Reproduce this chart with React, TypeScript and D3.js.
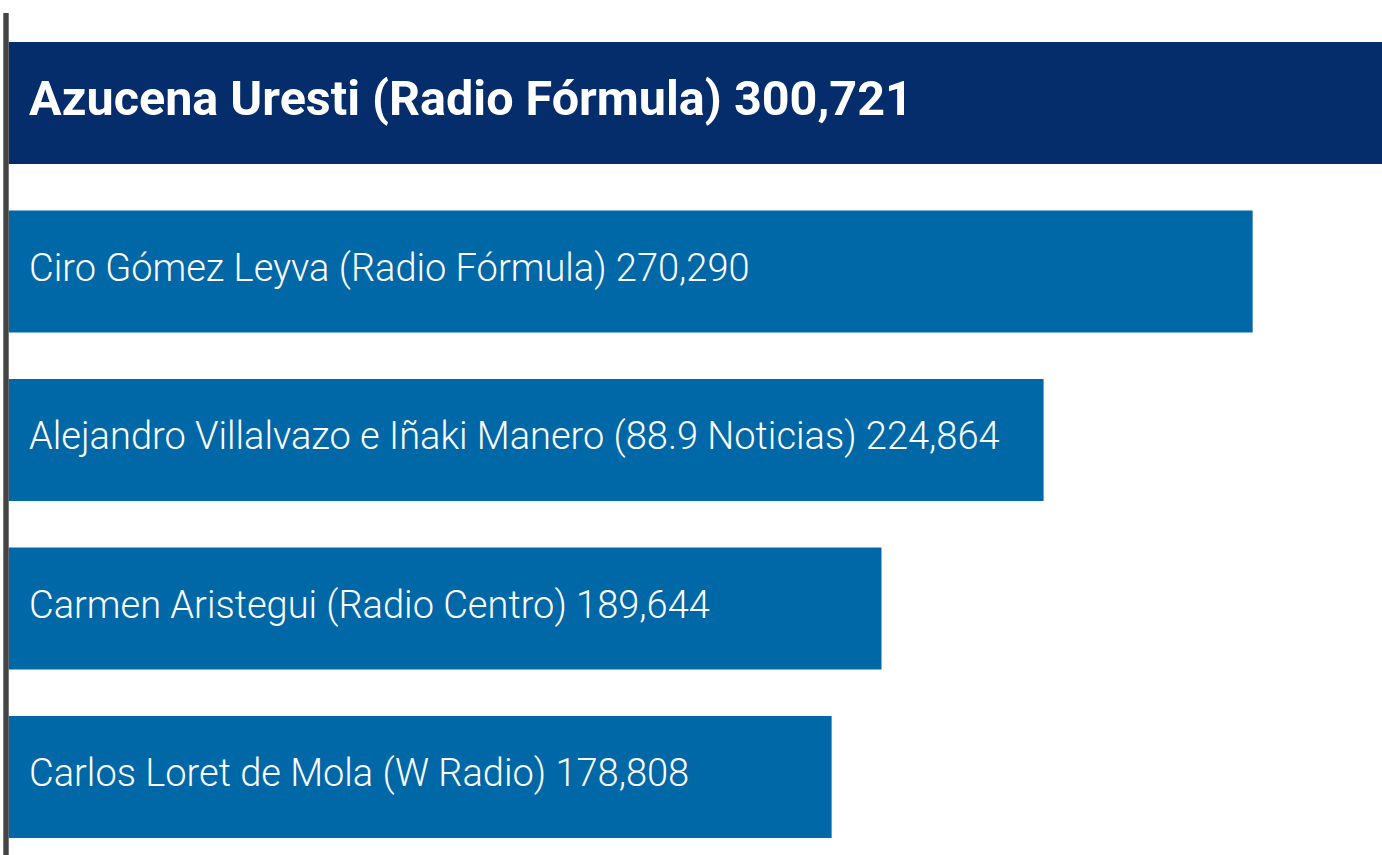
import React from "react";
import * as d3 from "d3";

const names = [
  "Azucena Uresti (Radio Fórmula)",
  "Ciro Gómez Leyva (Radio Fórmula)",
  "Alejandro Villalvazo e Iñaki Manero (88.9 Noticias)",
  "Carmen Aristegui (Radio Centro)",
  "Carlos Loret de Mola (W Radio)",
];
const values = [300721, 270290, 224864, 189644, 178808];
const highlight = [true, false, false, false, false];

const W = 1382;
const H = 855;

export default function App() {
  const x = d3.scaleLinear().domain([0, 300721]).range([0, 1384]);
  const y = d3
    .scaleBand<string>()
    .domain(names)
    .range([42, 838])
    .paddingInner(0.276)
    .paddingOuter(0);
  const fmt = d3.format(",");
  const x0 = 8.7;
  return (
    <div style={{ position: "fixed", left: 0, top: 0, width: W, height: H, background: "#fff" }}>
      <svg width={W} height={H} style={{ display: "block" }}>
        {names.map((n, i) => {
          const yy = y(n)!;
          const h = y.bandwidth();
          return (
            <g key={n}>
              <rect x={x0} y={yy} width={x(values[i])} height={h} fill={highlight[i] ? "#052d6b" : "#0068a6"} />
              <text
                x={29}
                y={yy + h / 2}
                dy="0.24em"
                fill="#fff"
                fontFamily="Roboto"
                fontWeight={highlight[i] ? 700 : 300}
                fontSize={highlight[i] ? 48.5 : 38}
              >
                {n} {fmt(values[i])}
              </text>
            </g>
          );
        })}
        <rect x={3.3} y={13} width={5.4} height={H - 13} fill="#444" />
      </svg>
    </div>
  );
}
